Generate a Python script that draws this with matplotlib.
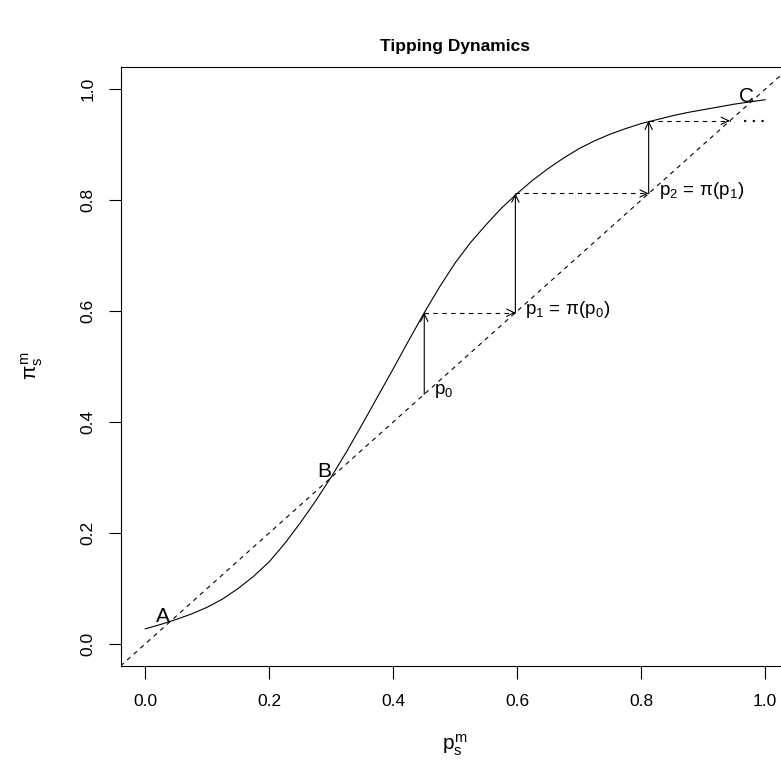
import matplotlib
matplotlib.use("Agg")
import matplotlib.pyplot as plt

# response curve pi(p) at steps of 0.025
p_vals = [0.000, 0.025, 0.050, 0.075, 0.100, 0.125, 0.150, 0.175, 0.200, 0.225,
          0.250, 0.275, 0.300, 0.325, 0.350, 0.375, 0.400, 0.425, 0.450, 0.475,
          0.500, 0.525, 0.550, 0.575, 0.600, 0.625, 0.650, 0.675, 0.700, 0.725,
          0.750, 0.775, 0.800, 0.825, 0.850, 0.875, 0.900, 0.925, 0.950, 0.975, 1.000]
pi_vals = [0.027, 0.035, 0.044, 0.054, 0.066, 0.081, 0.100, 0.122, 0.148, 0.181,
           0.218, 0.258, 0.301, 0.347, 0.396, 0.446, 0.496, 0.547, 0.597, 0.644,
           0.687, 0.724, 0.756, 0.786, 0.812, 0.836, 0.857, 0.876, 0.893, 0.907,
           0.919, 0.929, 0.938, 0.945, 0.952, 0.958, 0.963, 0.968, 0.973, 0.977, 0.981]

# cobweb iterates p0 -> p1 -> p2 -> p3
iterates = [0.45, 0.597, 0.812, 0.943]
iter_labels = [r"$p_0$", r"$p_1\,=\,\pi(p_0)$", r"$p_2\,=\,\pi(p_1)$"]

# fixed points A, B, C
fixed_x = [0.040, 0.300, 0.982]
fixed_y = [0.040, 0.300, 0.977]
fixed_labels = ["A", "B", "C"]

dots_x = [0.967, 0.998]

ticks = [0.0, 0.2, 0.4, 0.6, 0.8, 1.0]
tick_labels = ["0.0", "0.2", "0.4", "0.6", "0.8", "1.0"]

plt.rcParams["font.family"] = ["Liberation Sans", "DejaVu Sans"]
plt.rcParams["mathtext.fontset"] = "custom"
plt.rcParams["mathtext.rm"] = "Liberation Sans"
plt.rcParams["mathtext.it"] = "Liberation Sans"
plt.rcParams["mathtext.bf"] = "Liberation Sans:bold"

W, H = 781, 764
fig = plt.figure(figsize=(W / 100, H / 100), dpi=100)
ax = fig.add_axes([120.5 / W, 98 / H, 669.5 / W, 599 / H])
ax.set_xlim(-0.04, 1.04)
ax.set_ylim(-0.04, 1.04)

lw = 0.8
dash = (0, (4, 4))

ax.plot([-0.04, 1.04], [-0.04, 1.04], color="black", lw=lw, linestyle=dash)
ax.plot(p_vals, pi_vals, color="black", lw=lw)

head = dict(arrowstyle="->,head_length=0.45,head_width=0.22", color="black", lw=lw,
            shrinkA=0, shrinkB=0, mutation_scale=12)
for i in range(len(iterates) - 1):
    x0, x1 = iterates[i], iterates[i + 1]
    # vertical step up to the curve
    ax.annotate("", xy=(x0, x1), xytext=(x0, x0), arrowprops=head)
    # horizontal dashed step to the diagonal
    ax.plot([x0, x1], [x1, x1], color="black", lw=lw, linestyle=dash)
    ax.annotate("", xy=(x1, x1), xytext=(x1 - 0.004, x1), arrowprops=head)

# trailing "..." after the last step
ax.plot(dots_x, [iterates[-1]] * 2, color="black", lw=1.7, linestyle=(0, (0.1, 3.6)),
        dash_capstyle="round")

for i, lab in enumerate(iter_labels):
    ax.text(iterates[i] + 0.016, iterates[i] + 0.006, lab, fontsize=13.5,
            ha="left", va="center")

for x, y, lab in zip(fixed_x, fixed_y, fixed_labels):
    ax.text(x, y, lab, fontsize=15, ha="right", va="baseline")

ax.set_xticks(ticks)
ax.set_xticklabels(tick_labels)
ax.set_yticks(ticks)
ax.set_yticklabels(tick_labels, rotation=90, va="center")
ax.tick_params(direction="out", length=9, width=lw, labelsize=12.5)
ax.tick_params(axis="x", pad=11)
ax.tick_params(axis="y", pad=9)
for s in ax.spines.values():
    s.set_linewidth(lw)

fig.text(455 / W, 1 - 47 / H, "Tipping Dynamics", fontsize=12.5, weight="bold",
         ha="center", va="center")
fig.text(455 / W, 1 - 745 / H, r"$p_s^m$", fontsize=15, ha="center", va="center")
fig.text(32 / W, 1 - 366 / H, r"$\pi_s^m$", fontsize=15, ha="center", va="center",
         rotation=90)

fig.savefig("out.png", dpi=100)
